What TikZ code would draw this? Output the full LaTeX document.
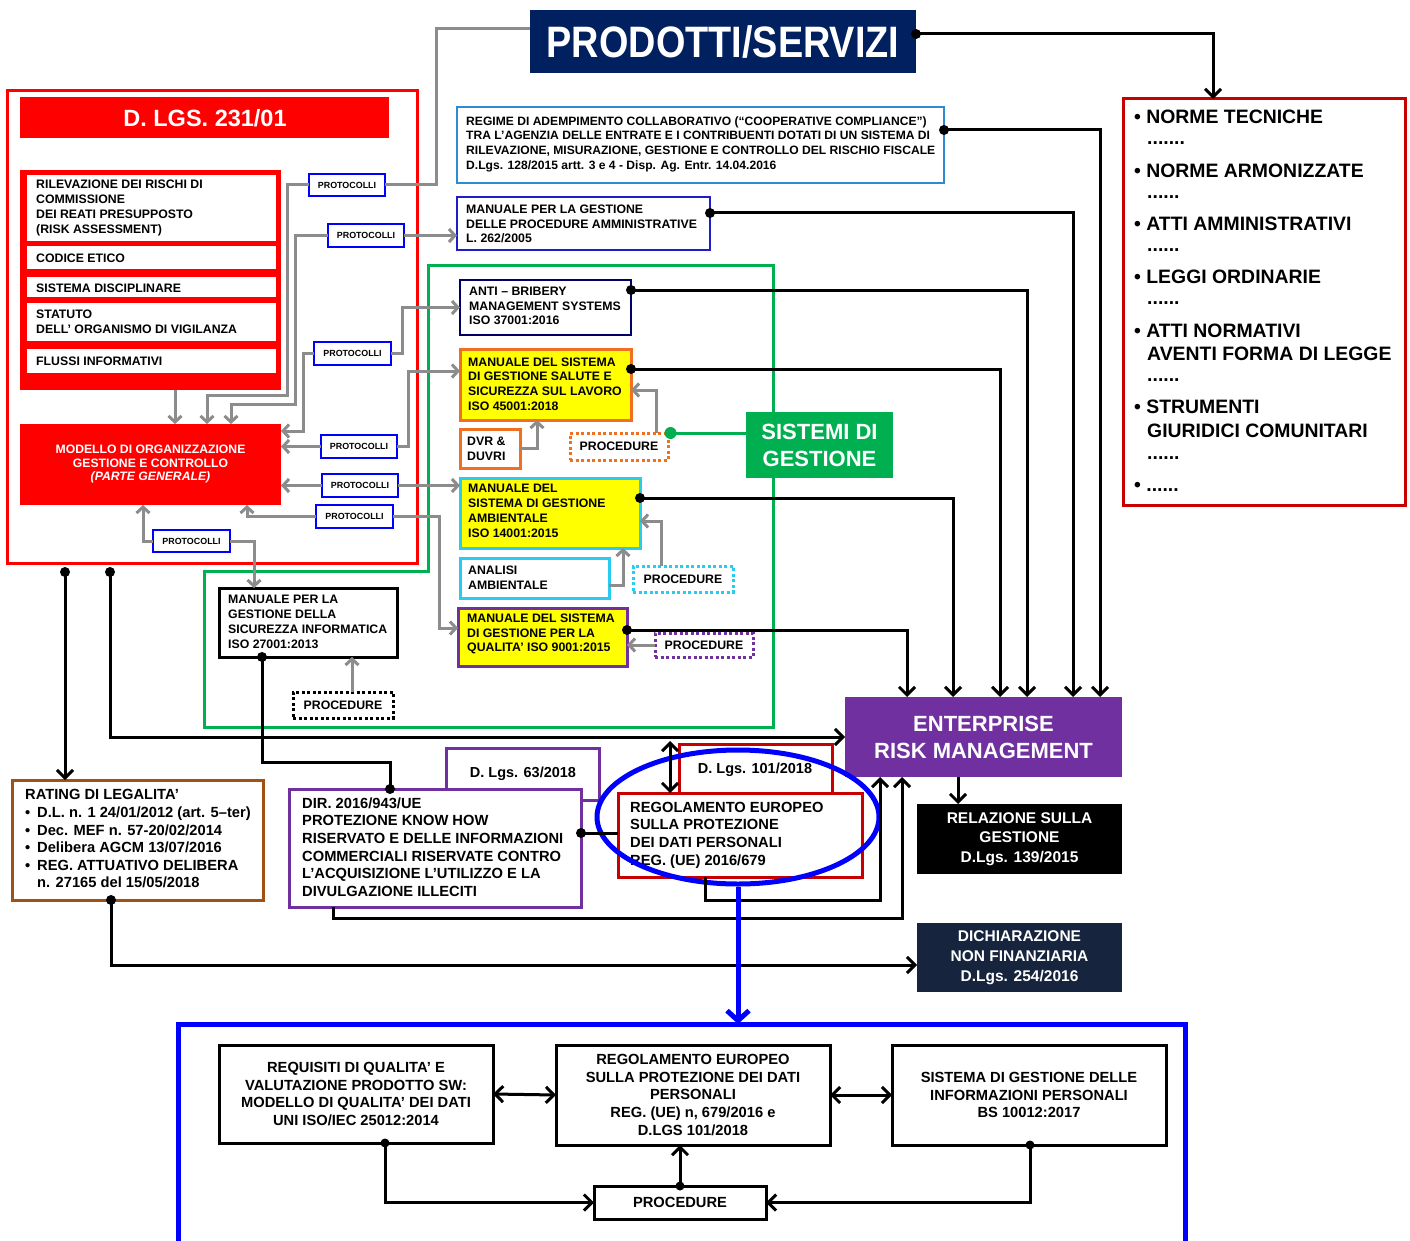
\documentclass[tikz,border=0pt]{standalone}
\usepackage{fontspec}
\setmainfont{Liberation Sans}
\usepackage{graphicx}
\usetikzlibrary{arrows.meta,shapes.geometric}
\definecolor{navy}{RGB}{0,32,96}
\definecolor{rd}{RGB}{255,0,0}
\definecolor{drd}{RGB}{200,0,0}
\definecolor{lblue}{RGB}{46,139,208}
\definecolor{bl}{RGB}{0,0,255}
\definecolor{mblue}{RGB}{30,30,200}
\definecolor{grn}{RGB}{0,176,80}
\definecolor{nvb}{RGB}{0,0,102}
\definecolor{org}{RGB}{240,112,32}
\definecolor{yel}{RGB}{255,255,0}
\definecolor{cyn}{RGB}{40,204,240}
\definecolor{pur}{RGB}{112,48,160}
\definecolor{brn}{RGB}{160,82,20}
\definecolor{gry}{RGB}{140,140,140}
\definecolor{dnavy}{RGB}{22,36,62}
\newcommand\fsz[2]{\fontsize{#1}{#2}\selectfont}
\newcommand\Bx[7]{\node[align=center,inner sep=0pt,outer sep=0pt,minimum width={(#4-#2)*1pt},minimum height={(#5-#3)*1pt},#6] (#1) at ({(#2+#4)/2},{(#3+#5)/2}) {#7};}
\newcommand\Tx[5]{\node[anchor=west,align=left,inner sep=0pt,#4] (#1) at (#2,#3) {#5};}
\begin{document}
\begin{tikzpicture}[x=1pt,y=-1pt,
 gl/.style={draw=gry,line width=3pt},
 ga/.style={gl,-{Straight Barb[length=6pt,width=13pt]}},
 bk/.style={draw=black,line width=3pt},
 ba/.style={bk,-{Straight Barb[length=8pt,width=16pt]}},
 bab/.style={bk,{Straight Barb[length=8pt,width=16pt]}-{Straight Barb[length=8pt,width=16pt]}},
 prot/.style={draw=bl,line width=2.5pt,fill=white,font=\bfseries\fsz{8.9}{10}},
 dotb/.style={line width=3pt,dash pattern=on 3pt off 2.5pt,fill=white,font=\bfseries\fsz{12.3}{14}},
 f12/.style={font=\bfseries\fsz{12.3}{14.8}},
 f14/.style={font=\bfseries\fsz{14.7}{17.6}},
 wt/.style={text=white}]
\useasboundingbox (0,0) rectangle (1410,1241);
\fill[white] (0,0) rectangle (1410,1241);

% containers
\Bx{dlgs}{7}{91}{417}{563}{draw=rd,line width=3pt}{}
\draw[draw=grn,line width=3pt] (428,266) -- (773,266) -- (773,727) -- (204,727) -- (204,571) -- (428,571) -- cycle;
\draw[draw=bl,line width=5pt] (178,1262) -- (178,1024) -- (1185,1024) -- (1185,1262);
\coordinate (bbtop) at (738,1024);

% title
\Bx{prod}{530}{10}{916}{73}{fill=navy}{}
\node[wt,font=\bfseries\fsz{44}{48}] (prodt) at (723,42) {\scalebox{0.86}[1]{PRODOTTI/SERVIZI}};

% norme
\Bx{norme}{1123}{99}{1405}{505}{draw=drd,line width=3pt}{}
\foreach \xx/\yy/\ntxt [count=\i] in {1134/117/{• NORME TECNICHE},1147/143/{.......},1134/171/{• NORME ARMONIZZATE},1147/197/{......},1134/224/{• ATTI AMMINISTRATIVI},1147/250/{......},1134/277/{• LEGGI ORDINARIE},1147/303/{......},1134/331/{• ATTI NORMATIVI},1147/354/{AVENTI FORMA DI LEGGE},1147/380/{......},1134/407/{• STRUMENTI},1147/431/{GIURIDICI COMUNITARI},1147/458/{......},1134/487/{• ......}}
  \node[anchor=west,inner sep=0pt,font=\bfseries\fsz{19.4}{22}] (nt\i) at (\xx,\yy) {\ntxt};

% D.LGS 231
\Bx{dlgst}{20}{97}{389}{138}{fill=rd}{}
\node[wt,font=\bfseries\fsz{23.5}{26}] (dlgstt) at (205,118) {D. LGS. 231/01};
\Bx{grp}{20}{170}{281}{390}{fill=rd}{}
\Bx{rilev}{27}{175}{276}{241}{fill=white}{}
\Bx{codice}{27}{246}{276}{269}{fill=white}{}
\Bx{sistd}{27}{277}{276}{297}{fill=white}{}
\Bx{statuto}{27}{303}{276}{341}{fill=white}{}
\Bx{flussi}{27}{349}{276}{373}{fill=white}{}
\Tx{trilev}{36}{208}{f12}{RILEVAZIONE  DEI RISCHI DI\\COMMISSIONE\\DEI REATI PRESUPPOSTO\\(RISK ASSESSMENT)}
\Tx{tcodice}{36}{258}{f12}{CODICE ETICO}
\Tx{tsistd}{36}{288}{f12}{SISTEMA DISCIPLINARE}
\Tx{tstatuto}{36}{322}{f12}{STATUTO\\DELL’ ORGANISMO DI VIGILANZA}
\Tx{tflussi}{36}{361}{f12}{FLUSSI INFORMATIVI}
\Bx{modello}{20}{424}{281}{505}{fill=rd,wt,font=\bfseries\fsz{12.2}{13.5}}{MODELLO DI ORGANIZZAZIONE\\GESTIONE E CONTROLLO\\\textit{(PARTE GENERALE)}}

% protocolli
\Bx{prot1}{309}{174}{385}{196}{prot}{PROTOCOLLI}
\Bx{prot2}{328}{224}{404}{247}{prot}{PROTOCOLLI}
\Bx{prot3}{314}{342}{391}{365}{prot}{PROTOCOLLI}
\Bx{prot4}{321}{435}{397}{458}{prot}{PROTOCOLLI}
\Bx{prot5}{322}{474}{398}{497}{prot}{PROTOCOLLI}
\Bx{prot6}{316}{505}{393}{528}{prot}{PROTOCOLLI}
\Bx{prot7}{153}{530}{230}{552}{prot}{PROTOCOLLI}

% right column boxes
\Bx{coop}{457}{107}{944}{183}{draw=lblue,line width=2.5pt}{}
\Tx{tcoop}{466}{144}{font=\bfseries\fsz{12.1}{14.7}}{REGIME DI ADEMPIMENTO COLLABORATIVO  (“COOPERATIVE COMPLIANCE”)\\TRA L’AGENZIA DELLE ENTRATE E I CONTRIBUENTI DOTATI DI UN SISTEMA DI\\RILEVAZIONE, MISURAZIONE, GESTIONE E CONTROLLO DEL RISCHIO FISCALE\\D.Lgs. 128/2015 artt. 3 e 4 - Disp. Ag. Entr. 14.04.2016}
\Bx{amm}{457}{197}{710}{250}{draw=mblue,line width=2.5pt}{}
\Tx{tamm}{466}{224}{f12}{MANUALE PER LA GESTIONE\\DELLE PROCEDURE AMMINISTRATIVE\\L. 262/2005}
\Bx{sist}{746}{412}{893}{478}{fill=grn,wt,font=\bfseries\fsz{22}{27}}{SISTEMI DI\\GESTIONE}
\Bx{anti}{460}{280}{631}{335}{draw=nvb,line width=2.5pt,fill=white}{}
\Tx{tanti}{469}{306}{f12}{ANTI – BRIBERY\\MANAGEMENT  SYSTEMS\\ISO 37001:2016}
\Bx{salute}{460}{349}{631}{420}{draw=org,line width=3pt,fill=yel}{}
\Tx{tsalute}{468}{384}{f12}{MANUALE DEL SISTEMA\\DI GESTIONE SALUTE E\\SICUREZZA  SUL LAVORO\\ISO 45001:2018}
\Bx{dvr}{460}{429}{520}{468}{draw=org,line width=3pt,fill=white}{}
\Tx{tdvr}{467}{449}{f12}{DVR \&\\DUVRI}
\Bx{porg}{570}{433}{668}{460}{dotb,draw=org}{PROCEDURE}
\Bx{amb}{460}{478}{640}{548}{draw=cyn,line width=3pt,fill=yel}{}
\Tx{tamb}{468}{511}{f12}{MANUALE DEL\\SISTEMA DI GESTIONE\\AMBIENTALE\\ISO 14001:2015}
\Bx{analisi}{460}{558}{609}{598}{draw=cyn,line width=3pt,fill=white}{}
\Tx{tanalisi}{468}{578}{f12}{ANALISI\\AMBIENTALE}
\Bx{pamb}{633}{566}{733}{592}{dotb,draw=cyn}{PROCEDURE}
\Bx{qual}{458}{608}{627}{666}{draw=pur,line width=3pt,fill=yel}{}
\Tx{tqual}{467}{634}{f12}{MANUALE DEL SISTEMA\\DI GESTIONE PER LA\\QUALITA’ ISO 9001:2015}
\Bx{pqual}{655}{633}{753}{657}{dotb,draw=pur}{PROCEDURE}
\Bx{sicinf}{219}{588}{397}{657}{draw=black,line width=3pt,fill=white}{}
\Tx{tsicinf}{228}{622}{f12}{MANUALE PER LA\\GESTIONE DELLA\\SICUREZZA  INFORMATICA\\ISO 27001:2013}
\Bx{psic}{293}{692}{393}{718}{dotb,draw=black}{PROCEDURE}

% ERM and outputs
\Bx{erm}{845}{697}{1122}{777}{fill=pur,wt,font=\bfseries\fsz{22}{27}}{ENTERPRISE\\RISK MANAGEMENT}
\Bx{rel}{917}{804}{1122}{874}{fill=black,wt,font=\bfseries\fsz{15.5}{19.5}}{RELAZIONE  SULLA\\GESTIONE\\D.Lgs. 139/2015}
\Bx{dich}{917}{923}{1122}{992}{fill=dnavy,wt,font=\bfseries\fsz{15.5}{20}}{DICHIARAZIONE\\NON  FINANZIARIA\\D.Lgs. 254/2016}

% lower left
\Bx{rating}{12}{780}{263}{900}{draw=brn,line width=3pt}{}
\Tx{trating}{25}{839}{f14}{RATING DI LEGALITA’\\\makebox[12pt][l]{•}D.L. n. 1 24/01/2012 (art. 5–ter)\\\makebox[12pt][l]{•}Dec. MEF n. 57-20/02/2014\\\makebox[12pt][l]{•}Delibera AGCM 13/07/2016\\\makebox[12pt][l]{•}REG. ATTUATIVO DELIBERA\\\hspace*{12pt}n. 27165 del 15/05/2018}
\Bx{dl63}{446}{748}{599}{800}{draw=pur,line width=3pt}{}
\node[font=\bfseries\fsz{14.5}{17}] (tdl63) at (523,774) {D. Lgs. 63/2018};
\Bx{dir}{289}{789}{581}{907}{draw=pur,line width=3pt,fill=white}{}
\Tx{tdir}{302}{847}{f14}{DIR. 2016/943/UE\\PROTEZIONE KNOW HOW\\RISERVATO E DELLE INFORMAZIONI\\COMMERCIALI RISERVATE CONTRO\\L’ACQUISIZIONE L’UTILIZZO E LA\\DIVULGAZIONE ILLECITI}
\Bx{dl101}{679}{744}{832}{800}{draw=drd,line width=3pt}{}
\node[font=\bfseries\fsz{14.5}{17}] (tdl101) at (755,770) {D. Lgs. 101/2018};
\Bx{reg}{618}{793}{862}{877}{draw=drd,line width=3pt,fill=white}{}
\Tx{treg}{630}{835}{f14}{REGOLAMENTO EUROPEO\\SULLA PROTEZIONE\\DEI DATI PERSONALI\\REG. (UE) 2016/679}
\node[ellipse,draw=bl,line width=5pt,minimum width=282pt,minimum height=134pt,inner sep=0pt] (ell) at (738,817) {};

% bottom
\Bx{req}{219}{1045}{493}{1143}{draw=black,line width=3pt,f14}{REQUISITI DI QUALITA’ E\\VALUTAZIONE  PRODOTTO SW:\\MODELLO DI QUALITA’ DEI DATI\\UNI ISO/IEC 25012:2014}
\Bx{reg2}{556}{1045}{830}{1145}{draw=black,line width=3pt,f14}{REGOLAMENTO EUROPEO\\SULLA PROTEZIONE DEI DATI\\PERSONALI\\REG. (UE) n, 679/2016 e\\D.LGS 101/2018}
\Bx{bs}{892}{1045}{1166}{1145}{draw=black,line width=3pt,f14}{SISTEMA DI GESTIONE DELLE\\INFORMAZIONI PERSONALI\\BS 10012:2017}
\Bx{proc2}{594}{1186}{766}{1219}{draw=black,line width=3pt,f14}{PROCEDURE}

% gray connectors
\draw[gl] (prot1.east) -| (436,29) -- ([yshift=12.5pt]prod.west);
\draw[ga] ([xshift=24.5pt]grp.south) -- ([xshift=24.5pt]modello.north);
\draw[ga] (prot1.west) -| (287,395) -| ([xshift=56.5pt]modello.north);
\draw[ga] (prot2.west) -| (295,404) -| ([xshift=80.5pt]modello.north);
\draw[ga] (prot3.west) -| (303,431) -- ([yshift=33.5pt]modello.east);
\draw[ga] (prot4.west) -- (prot4.west -| modello.east);
\draw[ga] (prot5.west) -- (prot5.west -| modello.east);
\draw[ga] (prot6.west) -| ([xshift=96.5pt]modello.south);
\draw[ga] (prot7.west) -| ([xshift=-7.5pt]modello.south);
\draw[ga] (prot7.east) -| ([xshift=-54pt]sicinf.north);
\draw[ga] (prot2.east) -- (prot2.east -| amm.west);
\draw[ga] (prot3.east) -| (402,307.5) -- (anti.west);
\draw[ga] (prot4.east) -| (408,371) -- ([yshift=13.5pt]salute.west);
\draw[ga] (prot5.east) -- (prot5.east -| amb.west);
\draw[ga] (prot6.east) -| (439,628) -- ([yshift=9pt]qual.west);
\draw[ga] (dvr.east) -| ([xshift=-8.5pt]salute.south);
\draw[ga] ([xshift=37.5pt]porg.north) |- ([yshift=-5.5pt]salute.east);
\draw[ga] ([yshift=-7pt]analisi.east) -| ([xshift=73pt]amb.south);
\draw[ga] ([xshift=-22pt]pamb.north) |- ([yshift=-8pt]amb.east);
\draw[ga] (pqual.west) -- (pqual.west -| qual.east);
\draw[ga] ([xshift=9pt]psic.north) -- ([xshift=44pt]sicinf.south);

% green connector
\draw[draw=grn,line width=3pt] ([yshift=12pt]sist.west) -- ([xshift=51.5pt]porg.north);
\fill[grn] ([xshift=51.5pt]porg.north) circle[radius=6pt];

% black connectors to ERM / norme
\draw[ba] ([yshift=7.5pt]prod.east) -| ([xshift=-51pt]norme.north);
\fill ([yshift=7.5pt]prod.east) circle[radius=5pt];
\draw[ba] ([yshift=15pt]coop.east) -| ([xshift=116.5pt]erm.north);
\fill ([yshift=15pt]coop.east) circle[radius=5pt];
\draw[ba] ([yshift=10.5pt]amm.east) -| ([xshift=89.5pt]erm.north);
\fill ([yshift=10.5pt]amm.east) circle[radius=5pt];
\draw[ba] ([yshift=17.5pt]anti.east) -| ([xshift=43.5pt]erm.north);
\fill ([yshift=17.5pt]anti.east) circle[radius=5pt];
\draw[ba] ([yshift=15.5pt]salute.east) -| ([xshift=16.5pt]erm.north);
\fill ([yshift=15.5pt]salute.east) circle[radius=5pt];
\draw[ba] ([yshift=15pt]amb.east) -| ([xshift=-30.5pt]erm.north);
\fill ([yshift=15pt]amb.east) circle[radius=5pt];
\draw[ba] ([yshift=7pt]qual.east) -| ([xshift=-76.5pt]erm.north);
\fill ([yshift=7pt]qual.east) circle[radius=5pt];

\coordinate (d1) at (65,572);
\coordinate (d2) at (110,572);
\draw[ba] (d1) -- ([xshift=-72.5pt]rating.north);
\fill (d1) circle[radius=5pt];
\draw[ba] (d2) |- (erm.west);
\fill (d2) circle[radius=5pt];
\coordinate (j1) at (670,741);
\draw[bab] (j1) -- ([xshift=-70pt]reg.north);
\draw[bk] ([xshift=-46pt]sicinf.south) |- (390,762) -- ([xshift=-45pt]dir.north);
\fill ([xshift=-46pt]sicinf.south) circle[radius=5pt];
\fill ([xshift=-45pt]dir.north) circle[radius=5pt];
\draw[ba] ([xshift=-26.5pt]rating.south) |- ([yshift=-7.5pt]dich.west);
\fill ([xshift=-26.5pt]rating.south) circle[radius=5pt];
\draw[bk] ([yshift=15pt]dir.east) -- ([yshift=2pt]reg.west);
\fill ([yshift=15pt]dir.east) circle[radius=5pt];
\draw[ba] ([xshift=-102pt]dir.south) |- (902,918) -- ([xshift=-81.5pt]erm.south);
\draw[ba] ([xshift=-35pt]reg.south) |- (880,900) -- ([xshift=-103.5pt]erm.south);
\draw[ba] ([xshift=-25.5pt]erm.south) -- ([xshift=-61.5pt]rel.north);
\draw[draw=bl,line width=5pt,-{Straight Barb[length=10pt,width=22pt]}] (ell.south) -- (bbtop);

% bottom connectors
\draw[bab] (req.east) -- (reg2.west);
\draw[bab] (reg2.east) -- (bs.west);
\draw[ba] ([xshift=29pt]req.south) |- (proc2.west);
\fill ([xshift=29pt]req.south) circle[radius=4.5pt];
\draw[ba] ([xshift=1pt]bs.south) |- (proc2.east);
\fill ([xshift=1pt]bs.south) circle[radius=4.5pt];
\draw[ba] (proc2.north) -- ([xshift=-13pt]reg2.south);
\fill (proc2.north) circle[radius=4.5pt];
\end{tikzpicture}
\end{document}
